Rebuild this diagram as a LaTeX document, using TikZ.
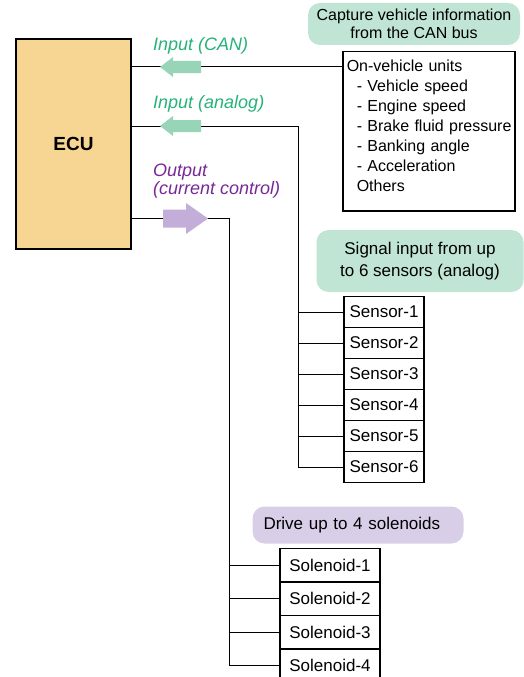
\documentclass[tikz,border=0pt]{standalone}
\usepackage{fontspec}
\setmainfont{Liberation Sans}

\definecolor{ecufill}{RGB}{246,214,146}
\definecolor{ingreen}{RGB}{38,178,120}
\definecolor{inarrow}{RGB}{152,212,184}
\definecolor{canbg}{RGB}{192,229,212}
\definecolor{outpurple}{RGB}{120,40,150}
\definecolor{outarrow}{RGB}{194,174,216}
\definecolor{drivebg}{RGB}{216,206,232}

\tikzset{
  unitbox/.style={draw,line width=1.5pt,fill=white,inner sep=0pt,
    font=\fontsize{17}{20}\selectfont},
  bubble/.style={fill=#1,rounded corners=12pt,inner sep=0pt,align=center},
  wire/.style={line width=1pt},
  portlabel/.style={anchor=base west,inner sep=0pt,
    font=\fontsize{18}{18}\selectfont\itshape},
}

\begin{document}
\begin{tikzpicture}[x=1pt,y=-1pt]
  \useasboundingbox (0,0) rectangle (524,677);

  \node[bubble=canbg,minimum width=212pt,minimum height=42pt,
    font=\fontsize{16}{18}\selectfont] (canhint) at (414,24)
    {Capture vehicle information\\from the CAN bus};
  \node[bubble=canbg,minimum width=207pt,minimum height=62pt,
    font=\fontsize{17}{22}\selectfont] (senshint) at (420,261)
    {Signal input from up\\to 6 sensors (analog)};
  \node[bubble=drivebg,minimum width=211pt,minimum height=37pt,
    text width=189pt,align=left,inner xsep=11pt,
    font=\fontsize{17}{20}\selectfont] (solhint) at (358,525)
    {Drive up to 4 solenoids};

  \node[draw,line width=2pt,fill=ecufill,minimum width=115pt,
    minimum height=210pt,font=\fontsize{19}{22}\selectfont\bfseries]
    (ecu) at (73.5,144) {ECU};

  \node[unitbox,anchor=north west,minimum width=172pt,minimum height=159pt,
    text width=164pt,align=left,inner xsep=4pt,
    font=\fontsize{16}{20}\selectfont] (veh) at (342,51)
    {On-vehicle units\\
     \hspace*{10pt}- Vehicle speed\\
     \hspace*{10pt}- Engine speed\\
     \hspace*{10pt}\mbox{- Brake fluid pressure}\\
     \hspace*{10pt}- Banking angle\\
     \hspace*{10pt}- Acceleration\\
     \hspace*{10pt}Others\\[-8pt]\mbox{}};

  \foreach \i in {1,...,6}
    \node[unitbox,minimum width=80pt,minimum height=31pt]
      (s\i) at (384,{312+31*(\i-1)}) {Sensor-\i};
  \foreach \i in {1,...,4}
    \node[unitbox,minimum width=100pt,minimum height=33.5pt]
      (v\i) at (330,{565+33.5*(\i-1)}) {Solenoid-\i};

  % wiring
  \coordinate (canj) at (131,67);
  \coordinate (abus) at (298,126);
  \coordinate (obus) at (229,218);
  \draw[wire] (veh.west |- canj) -- (ecu.east |- canj);
  \draw[wire] (ecu.east |- abus) -- (abus) -- (abus |- s6.west) -- (s6.west);
  \foreach \i in {1,...,5}
    \draw[wire] (abus |- s\i.west) -- (s\i.west);
  \draw[wire] (ecu.east |- obus) -- (obus) -- (obus |- v4.west) -- (v4.west);
  \foreach \i in {1,...,3}
    \draw[wire] (obus |- v\i.west) -- (v\i.west);

  % flow arrows
  \foreach \y in {67,126}
    \fill[inarrow] (160,\y) -- (173,\y-10) -- (173,\y-6) -- (201,\y-6)
      -- (201,\y+6) -- (173,\y+6) -- (173,\y+10) -- cycle;
  \fill[outarrow] (208,218.5) -- (186,203) -- (186,209.5) -- (163,209.5)
    -- (163,227.5) -- (186,227.5) -- (186,234) -- cycle;

  \node[portlabel,text=ingreen] (lcan) at (153,50.5) {Input (CAN)};
  \node[portlabel,text=ingreen] (lana) at (153,108) {Input (analog)};
  \node[portlabel,text=outpurple,align=left] (lout) at (153,194)
    {Output\\(current control)};
\end{tikzpicture}
\end{document}
